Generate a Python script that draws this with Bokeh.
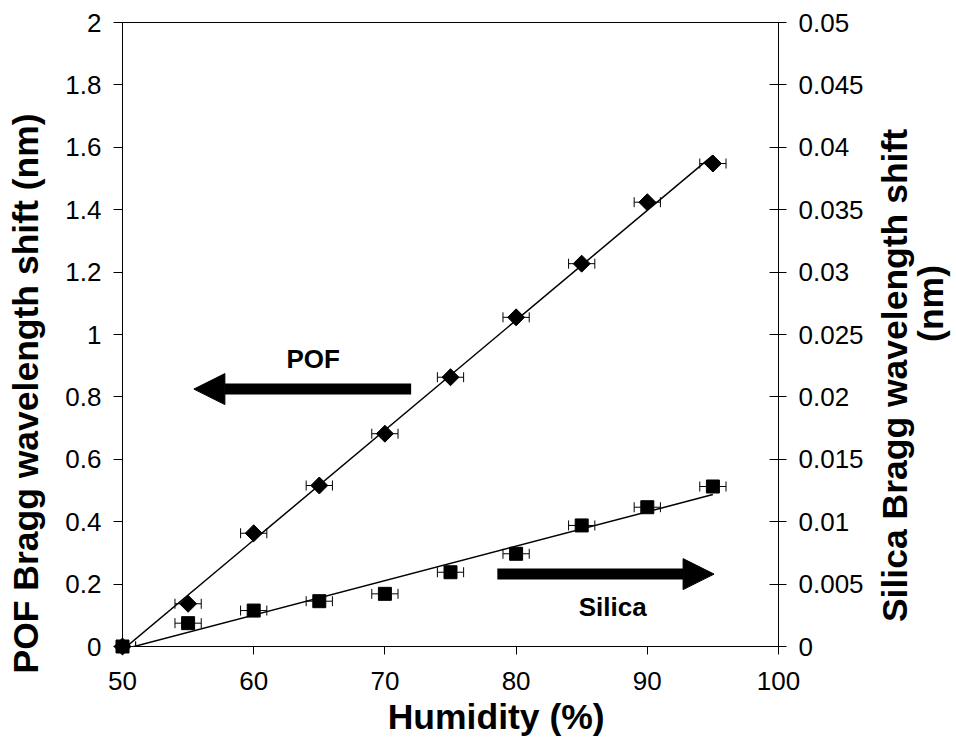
import numpy as np
from bokeh.plotting import figure
from bokeh.models import (Range1d, LinearAxis, FixedTicker, NumeralTickFormatter,
                          ColumnDataSource, Whisker, TeeHead, Arrow, NormalHead, Label)
from bokeh.embed import file_html
from bokeh.resources import INLINE

# ---- data ----
humidity = [50, 55, 60, 65, 70, 75, 80, 85, 90, 95]
pof_shift = [0.0, 0.137, 0.363, 0.516, 0.682, 0.863, 1.055, 1.227, 1.424, 1.548]
silica_shift = [0.0, 0.00187, 0.00288, 0.00363, 0.00422, 0.00595, 0.00743, 0.0097, 0.01116, 0.01282]
humidity_err = [1, 1, 1, 1, 1, 1, 1, 1, 1, 1]

x_ticks = [50, 60, 70, 80, 90, 100]
y_left_ticks = [0, 0.2, 0.4, 0.6, 0.8, 1.0, 1.2, 1.4, 1.6, 1.8, 2.0]
y_right_ticks = [0, 0.005, 0.01, 0.015, 0.02, 0.025, 0.03, 0.035, 0.04, 0.045, 0.05]

x_title = "Humidity (%)"
y_left_title = "POF Bragg wavelength shift (nm)"
y_right_title = ["Silica Bragg wavelength shift", "(nm)"]

FONT = "Liberation Sans"

p = figure(width=956, height=752, output_backend="svg", toolbar_location=None,
           x_range=Range1d(50, 100), y_range=Range1d(0, 2),
           min_border_left=122, min_border_top=22, min_border_right=178, min_border_bottom=106)
p.extra_y_ranges = {"silica": Range1d(0, 0.05)}
p.xgrid.visible = False
p.ygrid.visible = False
p.outline_line_color = "black"
p.outline_line_width = 1
p.background_fill_color = "white"
p.border_fill_color = "white"

def style_axis(ax, ticks, tin, tout):
    ax.ticker = FixedTicker(ticks=ticks)
    ax.formatter = NumeralTickFormatter(format="0.[000]")
    ax.major_tick_in = tin
    ax.major_tick_out = tout
    ax.minor_tick_line_color = None
    ax.axis_line_color = "black"
    ax.major_tick_line_color = "black"
    ax.major_label_text_font = FONT
    ax.major_label_text_font_size = "26px"
    ax.major_label_text_color = "black"

xa = p.xaxis[0]
style_axis(xa, x_ticks, 0, 8)
xa.major_label_standoff = 17

ya = p.yaxis[0]
style_axis(ya, y_left_ticks, 0, 9)
ya.major_label_standoff = 12

ra = LinearAxis(y_range_name="silica")
style_axis(ra, y_right_ticks, 9, 8)
ra.major_label_standoff = 12
p.add_layout(ra, "right")

x = np.array(humidity, dtype=float)
pof = np.array(pof_shift)
sil = np.array(silica_shift)
err = np.array(humidity_err, dtype=float)

# linear trend lines
a1, b1 = np.polyfit(x, pof, 1)
a2, b2 = np.polyfit(x, sil, 1)
xl = np.array([x.min(), x.max()])
p.line(xl, a1 * xl + b1, line_color="black", line_width=1.5)
p.line(xl, a2 * xl + b2, line_color="black", line_width=1.5, y_range_name="silica")

# error bars
src_p = ColumnDataSource(dict(y=pof, lo=np.maximum(x - err, 50), hi=x + err))
src_s = ColumnDataSource(dict(y=sil, lo=np.maximum(x - err, 50), hi=x + err))
for src, rn in ((src_p, "default"), (src_s, "silica")):
    w = Whisker(source=src, base="y", lower="lo", upper="hi", dimension="width",
                line_color="black", line_width=1,
                lower_head=TeeHead(size=10, line_color="black", line_width=1),
                upper_head=TeeHead(size=10, line_color="black", line_width=1))
    if rn != "default":
        w.y_range_name = rn
    p.add_layout(w)

# markers
p.scatter(x, pof, marker="square", angle=np.pi / 4, size=12,
          fill_color="black", line_color="black", level="overlay")
p.scatter(x, sil, marker="square", size=13, fill_color="black", line_color="black",
          y_range_name="silica", level="overlay")

# arrows and texts
p.add_layout(Arrow(end=NormalHead(size=31, fill_color="black", line_color="black"),
                   x_start=72.0, y_start=0.825, x_end=55.44, y_end=0.825,
                   line_color="black", line_width=11))
p.add_layout(Arrow(end=NormalHead(size=31, fill_color="black", line_color="black"),
                   x_start=78.57, y_start=0.232, x_end=95.09, y_end=0.232,
                   line_color="black", line_width=11))

def txt(xv, yv, s, size, angle=0.0, baseline="middle", place="center"):
    lab = Label(x=xv, y=yv, text=s, text_font=FONT, text_font_size=size,
                text_font_style="bold", text_align="center", text_baseline=baseline,
                angle=angle, text_color="black")
    if place == "center":
        p.add_layout(lab)
    else:
        p.add_layout(lab, place)

txt(64.53, 0.92, "POF", "26px")
txt(87.36, 0.128, "Silica", "26px")

# axis titles (placed in the side panels so they are not clipped by the frame)
txt(78.48, -0.225, x_title, "35.5px", baseline="alphabetic", place="below")
txt(42.65, 0.811, y_left_title, "35.5px", angle=np.pi / 2, baseline="alphabetic", place="left")
txt(108.91, 0.8686, y_right_title[0], "35.5px", angle=np.pi / 2, baseline="alphabetic", place="right")
txt(111.61, 1.0994, y_right_title[1], "35.5px", angle=np.pi / 2, baseline="alphabetic", place="right")

open("out.html", "w").write(file_html(p, INLINE))
